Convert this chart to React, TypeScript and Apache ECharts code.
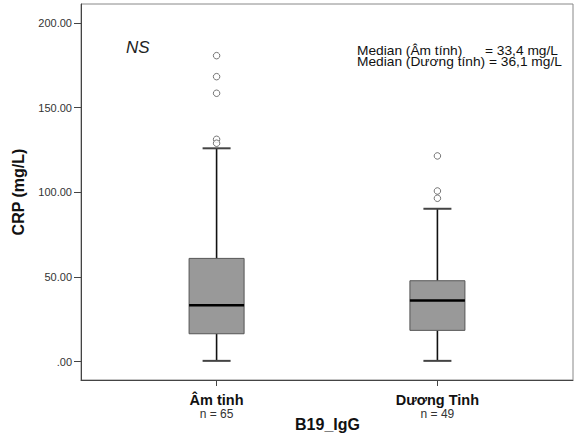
import React, { useEffect, useRef } from "react";
import * as echarts from "echarts";

const categories = ["Âm tinh", "Dương Tinh"];
const counts = [65, 49];
const whiskerLow = [0.5, 0.5];
const q1 = [16.5, 18.5];
const medians = [33.4, 36.1];
const q3 = [61.0, 47.8];
const whiskerHigh = [126.0, 90.3];
const outliersAm = [180.7, 168.3, 158.5, 131.3, 129.0];
const outliersDuong = [121.5, 100.8, 96.5];
const yTicks = [0, 50, 100, 150, 200];
const xPositions = [1, 2];
const xTitle = "B19_IgG";
const yTitle = "CRP (mg/L)";

const FONT = '"Liberation Sans", Arial, sans-serif';

export default function App() {
  const ref = useRef<HTMLDivElement>(null);
  useEffect(() => {
    if (!ref.current) return;
    const chart = echarts.init(ref.current, null, { renderer: "svg" });
    const boxData = categories.map((_, i) => [
      xPositions[i],
      whiskerLow[i],
      q1[i],
      medians[i],
      q3[i],
      whiskerHigh[i],
    ]);
    const outlierData = [
      ...outliersAm.map((v) => [xPositions[0], v]),
      ...outliersDuong.map((v) => [xPositions[1], v]),
    ];
    const option: any = {
      animation: false,
      backgroundColor: "#fff",
      textStyle: { fontFamily: FONT },
      grid: {
        left: 81,
        top: 4,
        width: 492,
        height: 376,
        show: true,
        borderColor: "#888",
        borderWidth: 1,
        backgroundColor: "transparent",
        containLabel: false,
        outerBoundsMode: "none",
      },
      xAxis: {
        type: "value",
        min: 0.386,
        max: 2.614,
        splitLine: { show: false },
        axisLine: { show: true, onZero: false, lineStyle: { color: "#444", width: 1 } },
        axisTick: {
          show: true,
          customValues: xPositions,
          length: 6,
          lineStyle: { color: "#444" },
        },
        axisLabel: {
          show: true,
          customValues: xPositions,
          margin: 12,
          formatter: (v: number) => {
            const i = xPositions.indexOf(Math.round(v));
            if (i < 0) return "";
            return `{a|${categories[i]}}\n{b|n = ${counts[i]}}`;
          },
          rich: {
            a: {
              fontSize: 14.5,
              fontWeight: "bold",
              color: "#111",
              lineHeight: 15,
              fontFamily: FONT,
            },
            b: {
              fontSize: 12,
              color: "#333",
              lineHeight: 13,
              fontFamily: FONT,
            },
          },
        },
      },
      yAxis: {
        type: "value",
        min: -10.8,
        max: 211.2,
        splitLine: { show: false },
        axisLine: { show: true, onZero: false, lineStyle: { color: "#444", width: 1 } },
        axisTick: {
          show: true,
          customValues: yTicks,
          length: 7,
          lineStyle: { color: "#444" },
        },
        axisLabel: {
          show: true,
          customValues: yTicks,
          margin: 9,
          fontSize: 11,
          color: "#333",
          fontFamily: FONT,
          formatter: (v: number) => (v === 0 ? ".00" : v.toFixed(2)),
        },
        name: yTitle,
        nameLocation: "middle",
        nameGap: 55,
        nameTextStyle: {
          fontSize: 16,
          fontWeight: "bold",
          color: "#111",
          fontFamily: FONT,
        },
      },
      graphic: [
        {
          type: "text",
          x: 327.5,
          y: 424,
          style: {
            text: xTitle,
            fontSize: 16,
            fontWeight: "bold",
            fontFamily: FONT,
            fill: "#111",
            textAlign: "center",
            align: "center",
            textVerticalAlign: "middle",
            verticalAlign: "middle",
          },
        },
        {
          type: "text",
          x: 126,
          y: 47,
          style: {
            text: "NS",
            fontSize: 17,
            fontStyle: "italic",
            fontFamily: FONT,
            fill: "#222",
            textVerticalAlign: "middle",
            verticalAlign: "middle",
          },
        },
        {
          type: "text",
          x: 357,
          y: 51,
          scaleX: 1.1,
          style: {
            text: "Median (Âm tính)",
            fontSize: 12.5,
            fontFamily: FONT,
            fill: "#111",
            textVerticalAlign: "middle",
            verticalAlign: "middle",
          },
        },
        {
          type: "text",
          x: 485,
          y: 51,
          scaleX: 1.1,
          style: {
            text: `= ${medians[0].toFixed(1).replace(".", ",")} mg/L`,
            fontSize: 12.5,
            fontFamily: FONT,
            fill: "#111",
            textVerticalAlign: "middle",
            verticalAlign: "middle",
          },
        },
        {
          type: "text",
          x: 357,
          y: 61.5,
          scaleX: 1.1,
          style: {
            text: `Median (Dương tính) = ${medians[1]
              .toFixed(1)
              .replace(".", ",")} mg/L`,
            fontSize: 12.5,
            fontFamily: FONT,
            fill: "#111",
            textVerticalAlign: "middle",
            verticalAlign: "middle",
          },
        },
      ],
      series: [
        {
          type: "custom",
          data: boxData,
          encode: { x: 0, y: [1, 2, 3, 4, 5] },
          renderItem: (params: any, api: any) => {
            const x = api.value(0);
            const pLo = api.coord([x, api.value(1)]);
            const pQ1 = api.coord([x, api.value(2)]);
            const pMed = api.coord([x, api.value(3)]);
            const pQ3 = api.coord([x, api.value(4)]);
            const pHi = api.coord([x, api.value(5)]);
            const cx = pMed[0];
            const half = 27.5;
            const cap = 14;
            return {
              type: "group",
              children: [
                {
                  type: "line",
                  shape: { x1: cx, y1: pQ3[1], x2: cx, y2: pHi[1] },
                  style: { stroke: "#111", lineWidth: 1.6 },
                },
                {
                  type: "line",
                  shape: { x1: cx, y1: pQ1[1], x2: cx, y2: pLo[1] },
                  style: { stroke: "#111", lineWidth: 1.6 },
                },
                {
                  type: "line",
                  shape: { x1: cx - cap, y1: pHi[1], x2: cx + cap, y2: pHi[1] },
                  style: { stroke: "#444", lineWidth: 2 },
                },
                {
                  type: "line",
                  shape: { x1: cx - cap, y1: pLo[1], x2: cx + cap, y2: pLo[1] },
                  style: { stroke: "#444", lineWidth: 2 },
                },
                {
                  type: "rect",
                  shape: {
                    x: cx - half,
                    y: pQ3[1],
                    width: half * 2,
                    height: pQ1[1] - pQ3[1],
                  },
                  style: { fill: "#999999", stroke: "#555", lineWidth: 1 },
                },
                {
                  type: "line",
                  shape: { x1: cx - half, y1: pMed[1], x2: cx + half, y2: pMed[1] },
                  style: { stroke: "#000", lineWidth: 2.5 },
                },
              ],
            };
          },
        },
        {
          type: "scatter",
          data: outlierData,
          symbol: "circle",
          symbolSize: 6.5,
          itemStyle: {
            color: "#fff",
            borderColor: "#555",
            borderWidth: 1,
          },
        },
      ],
    };
    chart.setOption(option);
    return () => chart.dispose();
  }, []);
  return (
    <div
      ref={ref}
      style={{ position: "fixed", left: 0, top: 0, width: 576, height: 434 }}
    />
  );
}
